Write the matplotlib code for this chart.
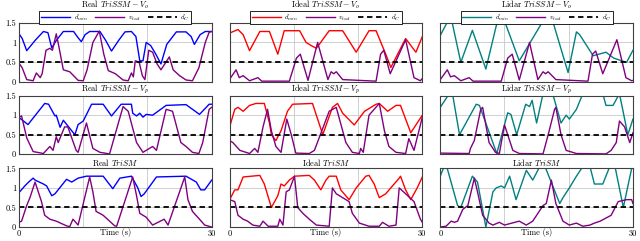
import matplotlib
matplotlib.use("Agg")
import matplotlib.pyplot as plt

plt.rcParams["font.family"] = ["cmr10", "DejaVu Serif"]
plt.rcParams["mathtext.fontset"] = "cm"
plt.rcParams["axes.unicode_minus"] = False
plt.rcParams["axes.formatter.use_mathtext"] = True

ROWS = ["Real", "Ideal", "Lidar"]
TITLES = ["$TriSSM - V_o$", "$TriSSM - V_p$", "$TriSM$"]
DMIN_COLORS = {"Real": "#0000ff", "Ideal": "#ff0000", "Lidar": "#008080"}
VTOOL_COLOR = "#800080"
D_C = 0.5

# ---- Real, TriSSM - Vo
REAL_VO_DMIN_T = [0, 0.5, 1.2, 2.5, 3.8, 4.5, 5.1, 5.8, 6.9, 8.5, 9.2, 9.7, 10.3, 11, 12.6, 13.5, 14.4, 15.5,
                  16.5, 17.5, 18.2, 18.8, 19.3, 19.8, 20.5, 21.3, 22.1, 23, 24.5, 26, 26.8, 27.3, 28.2, 29, 30]
REAL_VO_DMIN = [1.22, 1.1, 0.79, 1.05, 1.28, 1.25, 0.86, 1.05, 1.28, 1.28, 1.12, 1.02, 1.2, 1.28, 1.28, 1.05, 0.78, 1.05,
                1.27, 1.28, 1.15, 0.53, 0.53, 1.0, 0.92, 0.7, 0.45, 0.95, 1.27, 1.27, 1.15, 0.95, 1.2, 1.28, 1.28]
REAL_VO_VTOOL_T = [0, 0.5, 1.2, 2.2, 2.7, 3.3, 3.6, 4.2, 4.8, 5.2, 5.8, 6.2, 6.9, 7.9, 8.5, 9.2, 10, 10.6, 11.5, 12.5,
                   13.2, 13.9, 15, 16.2, 17, 17.5, 17.8, 18.1, 18.7, 19.2, 19.6, 20.2, 20.8, 21.5, 22.1, 23.4, 24,
                   25, 26, 27, 28, 29, 29.6, 30]
REAL_VO_VTOOL = [0.47, 0.35, 0.05, 0.02, 0.22, 0.1, 0.2, 0.8, 0.85, 0.8, 1.22, 0.9, 0.3, 0.25, 0.15, 0.03, 0.02, 0.3,
                 1.0, 1.29, 0.7, 0.28, 0.2, 0.04, 0.02, 0.22, 0.12, 0.53, 0.5, 0.15, 0.05, 0.8, 0.75, 0.45, 0.3,
                 0.63, 0.3, 0.15, 0.04, 0.02, 0.35, 1.0, 1.26, 1.28]

# ---- Ideal, TriSSM - Vo
IDEAL_VO_DMIN_T = [0, 1.3, 2.1, 3.1, 4.7, 6.2, 7.5, 8.5, 10.9, 11.9, 12.7, 13.5, 15.5, 17.6, 19.7, 21.7, 22.8, 24.3,
                   25.1, 27.4, 29, 30]
IDEAL_VO_DMIN = [1.24, 1.33, 1.2, 0.79, 1.28, 1.28, 0.7, 1.3, 1.3, 1.0, 0.92, 0.85, 1.3, 1.3, 0.75, 1.3, 1.3, 0.7,
                 0.36, 1.1, 0.75, 1.15]
IDEAL_VO_VTOOL_T = [0, 1.0, 1.5, 2.1, 3.1, 4.4, 5, 9.3, 10.4, 11, 12.2, 13.7, 15.3, 15.8, 16.2, 16.6, 17.6, 22.8,
                    23.5, 24, 25, 27.4, 28.7, 29.7, 30]
IDEAL_VO_VTOOL = [0.06, 0.3, 0.1, 0.15, 0.02, 0.1, 0.01, 0.01, 0.6, 0.7, 0.03, 1.0, 0.05, 0.25, 0.2, 0.25, 0.05,
                  0.01, 0.7, 0.8, 0.2, 1.07, 0.1, 0.02, 0.08]

# ---- Lidar, TriSSM - Vo
LIDAR_VO_DMIN_T = [0, 1.2, 1.8, 3.2, 5.0, 7.1, 8.9, 10.0, 12.3, 16, 17.5, 19.9, 21.2, 21.7, 23.8, 25.8, 27, 29, 30]
LIDAR_VO_DMIN = [1.18, 1.55, 1.55, 0.49, 1.31, 0.32, 1.55, 1.55, 0.53, 1.55, 1.55, 0.23, 1.27, 1.2, 0.66, 0.75,
                 0.6, 0.49, 0.8]
LIDAR_VO_VTOOL_T = [0, 1.1, 1.6, 2.2, 3.2, 4.5, 5.1, 9.5, 10.5, 11.2, 12.3, 13.9, 15.2, 16, 16.4, 16.8, 18, 23,
                    23.7, 24.2, 25.3, 27.5, 28.9, 29.8, 30]
LIDAR_VO_VTOOL = [0.05, 0.3, 0.12, 0.15, 0.02, 0.1, 0.01, 0.01, 0.6, 0.7, 0.04, 1.0, 0.05, 0.25, 0.2, 0.25, 0.05,
                  0.01, 0.7, 0.78, 0.2, 1.07, 0.1, 0.02, 0.03]

# ---- Real, TriSSM - Vp
REAL_VP_DMIN_T = [0, 1.4, 4.0, 4.6, 5.6, 5.8, 6.4, 6.9, 8.7, 9.2, 10, 11.3, 13.1, 14.4, 15.9, 17.5, 17.7, 18.3,
                  18.8, 19.3, 19.8, 20.8, 22.9, 26, 28.1, 29.6, 30]
REAL_VP_DMIN = [0.94, 0.76, 1.3, 1.28, 0.98, 1.0, 0.69, 0.87, 0.5, 0.76, 0.85, 1.28, 1.28, 0.98, 1.28, 1.28, 1.05,
                0.98, 1.05, 0.95, 1.02, 1.0, 1.25, 1.27, 1.02, 1.28, 1.28]
REAL_VP_VTOOL_T = [0, 0.4, 1.2, 2.2, 3.8, 4.8, 5.3, 5.8, 6.1, 7.1, 7.6, 8.9, 9.2, 10.5, 11.5, 12.6, 14.1, 16.2, 17,
                   18.3, 19.3, 20.8, 21.4, 22.9, 23.9, 25.2, 26, 27, 28, 28.6, 29.6, 30]
REAL_VP_VTOOL = [0.95, 0.98, 0.42, 0.07, 0.02, 0.2, 0.1, 0.45, 0.3, 0.7, 0.7, 0.1, 0.05, 0.8, 0.15, 0.05, 0.01,
                 1.22, 1.1, 0.3, 0.05, 0.2, 0.1, 1.15, 1.1, 0.3, 0.2, 0.05, 0.02, 0.3, 1.15, 1.2]

# ---- Ideal, TriSSM - Vp
IDEAL_VP_DMIN_T = [0, 0.8, 1.3, 2.1, 3.1, 4.1, 5.4, 6.2, 6.5, 7.2, 8.0, 9.0, 9.8, 12.9, 14.5, 16.0, 16.8, 17.6,
                   19.4, 21.0, 22.8, 23.3, 24.6, 25.9, 26.6, 28.2, 30]
IDEAL_VP_DMIN = [0.7, 1.15, 1.2, 1.1, 1.25, 1.3, 1.3, 0.8, 0.5, 0.35, 0.6, 1.1, 1.28, 1.3, 0.5, 1.2, 1.3, 1.05,
                 0.75, 1.1, 1.28, 1.3, 1.1, 1.25, 1.25, 0.55, 1.0]
IDEAL_VP_VTOOL_T = [0, 0.5, 1.6, 3.1, 3.9, 4.4, 5.2, 5.9, 6.5, 7.2, 8.0, 8.9, 9.6, 10.3, 12.4, 13.2, 15.5, 16.6,
                    18.1, 19.1, 20.2, 20.4, 20.8, 21.7, 23.3, 24.1, 24.8, 25.9, 27.4, 27.9, 28.7, 30]
IDEAL_VP_VTOOL = [0.35, 0.3, 0.1, 0.02, 0.15, 0.05, 0.7, 1.15, 0.6, 0.2, 0.05, 0.9, 0.5, 0.03, 0.02, 0.1, 1.1, 1.2,
                  0.3, 0.05, 0.02, 0.15, 0.05, 1.0, 1.3, 0.6, 0.2, 0.05, 0.02, 0.4, 0.1, 0.95]

# ---- Lidar, TriSSM - Vp
LIDAR_VP_DMIN_T = [0, 1.4, 1.9, 3.0, 5.6, 6.1, 8.8, 10.5, 11.0, 11.9, 13.3, 13.9, 14.3, 15.0, 16.0, 17.5, 18.8,
                   19.6, 20.1, 21.2, 22.2, 25.3, 25.8, 26.9, 27.9, 29.2, 30]
LIDAR_VP_DMIN = [1.2, 1.55, 1.55, 0.5, 1.28, 1.25, 0.02, 1.06, 1.02, 0.5, 1.28, 1.22, 1.38, 0.8, 1.55, 1.55, 0.8,
                 1.0, 0.9, 1.15, 1.55, 1.55, 1.25, 1.25, 1.55, 0.5, 0.9]
LIDAR_VP_VTOOL_T = [0, 4.5, 4.7, 5.3, 6.3, 6.6, 7.6, 8.6, 9.2, 10.0, 10.4, 11.3, 12.3, 16.0, 16.8, 17.8, 18.0,
                    18.8, 19.6, 21.2, 25.8, 26.6, 27.4, 27.9, 28.7, 29.5, 30]
LIDAR_VP_VTOOL = [0.03, 0.02, 0.15, 0.35, 1.15, 1.2, 0.3, 0.05, 0.02, 0.75, 0.55, 0.1, 0.02, 0.01, 0.5, 1.15, 1.2,
                  0.5, 0.1, 0.02, 0.01, 0.1, 0.3, 0.85, 0.7, 0.3, 0.55]

# ---- Real, TriSM
REAL_SM_DMIN_T = [0, 0.9, 1.5, 2.2, 2.5, 3.8, 4.3, 5.1, 5.6, 7.4, 8.2, 9.2, 10.5, 13.1, 14.6, 15.7, 17.5, 18.5,
                  19.0, 19.5, 21.4, 26, 27.6, 28.3, 28.9, 30]
REAL_SM_DMIN = [0.88, 1.05, 1.15, 1.25, 1.2, 1.1, 1.05, 0.8, 0.85, 1.22, 1.15, 1.25, 1.3, 1.3, 0.98, 1.25, 1.3, 1.0,
                0.78, 0.85, 1.28, 1.3, 1.15, 0.95, 0.95, 1.2]
REAL_SM_VTOOL_T = [0, 0.4, 1.2, 1.7, 2.5, 3.5, 4.0, 4.8, 5.8, 7.4, 7.9, 8.4, 9.2, 11, 11.5, 12, 13.1, 14.1, 14.9,
                   15.2, 17.7, 18.3, 18.8, 19.8, 20.8, 22.6, 23.2, 25.8, 26.3, 27, 28.1, 28.9, 30]
REAL_SM_VTOOL = [0.12, 0.15, 0.55, 0.75, 1.15, 0.65, 0.3, 0.2, 0.15, 0.03, 0.01, 0.2, 0.05, 1.28, 0.9, 0.4, 0.3,
                 0.15, 0.03, 0.02, 1.28, 0.8, 0.35, 0.25, 0.05, 0.2, 0.05, 1.28, 0.7, 0.4, 0.2, 0.05, 0.0]

# ---- Ideal, TriSM
IDEAL_SM_DMIN_T = [0, 0.8, 1.3, 2.1, 4.7, 5.4, 6.5, 7.5, 8.0, 8.5, 9.3, 10.1, 12.4, 13.2, 14.2, 15.0, 15.5, 16.6,
                   17.3, 18.6, 19.7, 21.2, 21.7, 22.5, 23.3, 24.3, 26.4, 26.6, 27.4, 28.2, 29.2, 30]
IDEAL_SM_DMIN = [0.7, 0.95, 0.95, 1.28, 1.32, 1.1, 0.5, 0.8, 1.1, 1.05, 1.2, 1.3, 1.32, 1.2, 0.95, 1.2, 1.3, 1.3,
                 0.95, 0.7, 1.0, 1.3, 1.32, 1.1, 0.75, 0.85, 1.25, 1.3, 0.95, 0.7, 1.0, 1.28]
IDEAL_SM_VTOOL_T = [0, 0.8, 1.3, 2.1, 2.8, 3.6, 4.7, 5.2, 6.0, 7.5, 7.8, 8.3, 8.8, 9.3, 10.1, 10.6, 11.4, 12.4,
                    13.5, 15.5, 16.0, 16.6, 17.6, 18.6, 19.1, 20.2, 21.7, 23.3, 23.8, 24.8, 25.9, 26.4, 27.4,
                    28.7, 29.7, 30]
IDEAL_SM_VTOOL = [0.7, 0.65, 0.3, 0.2, 0.15, 0.05, 0.02, 0.15, 0.02, 0.02, 0.2, 0.05, 0.9, 0.95, 1.3, 0.5, 0.35,
                  0.2, 0.05, 0.02, 1.0, 0.85, 0.75, 0.65, 0.35, 0.1, 0.02, 0.02, 0.12, 0.02, 0.05, 1.0, 0.85,
                  0.65, 0.2, 0.12]

# ---- Lidar, TriSM
LIDAR_SM_DMIN_T = [0, 0.6, 1.0, 2.7, 3.2, 5.0, 5.8, 7.1, 8.2, 8.7, 9.5, 10.0, 10.8, 11.8, 13.4, 14.4, 15.5, 16.3,
                   18.6, 19.1, 20.1, 21.2, 22.2, 23.3, 24.0, 25.3, 26.4, 27.2, 28.5, 29.8, 30]
LIDAR_SM_DMIN = [1.3, 1.55, 1.55, 0.55, 0.5, 1.3, 1.15, 0.0, 0.9, 1.0, 1.05, 1.0, 1.3, 0.7, 1.45, 1.2, 1.55, 1.55,
                 0.6, 0.75, 1.0, 1.3, 1.55, 1.55, 1.1, 1.1, 1.55, 1.55, 0.5, 1.5, 1.55]
LIDAR_SM_VTOOL_T = [0, 0.9, 1.7, 2.2, 2.7, 3.5, 4.3, 5.3, 5.8, 6.6, 7.6, 8.2, 9.2, 10.0, 12.3, 13.4, 14.4, 16.0,
                    16.5, 17.3, 18.0, 19.1, 20.1, 21.2, 22.2, 23.3, 24.0, 24.9, 26.6, 27.7, 29.0, 29.8, 30]
LIDAR_SM_VTOOL = [0.0, 0.02, 0.15, 0.12, 0.15, 0.45, 0.55, 1.25, 0.9, 0.3, 0.1, 0.05, 0.12, 0.05, 0.15, 0.05, 0.15,
                  0.55, 0.6, 1.2, 0.6, 0.15, 0.05, 0.1, 0.02, 0.05, 0.1, 0.15, 0.3, 0.65, 0.7, 0.7, 0.6]

SERIES = [
    [(REAL_VO_DMIN_T, REAL_VO_DMIN, REAL_VO_VTOOL_T, REAL_VO_VTOOL),
     (IDEAL_VO_DMIN_T, IDEAL_VO_DMIN, IDEAL_VO_VTOOL_T, IDEAL_VO_VTOOL),
     (LIDAR_VO_DMIN_T, LIDAR_VO_DMIN, LIDAR_VO_VTOOL_T, LIDAR_VO_VTOOL)],
    [(REAL_VP_DMIN_T, REAL_VP_DMIN, REAL_VP_VTOOL_T, REAL_VP_VTOOL),
     (IDEAL_VP_DMIN_T, IDEAL_VP_DMIN, IDEAL_VP_VTOOL_T, IDEAL_VP_VTOOL),
     (LIDAR_VP_DMIN_T, LIDAR_VP_DMIN, LIDAR_VP_VTOOL_T, LIDAR_VP_VTOOL)],
    [(REAL_SM_DMIN_T, REAL_SM_DMIN, REAL_SM_VTOOL_T, REAL_SM_VTOOL),
     (IDEAL_SM_DMIN_T, IDEAL_SM_DMIN, IDEAL_SM_VTOOL_T, IDEAL_SM_VTOOL),
     (LIDAR_SM_DMIN_T, LIDAR_SM_DMIN, LIDAR_SM_VTOOL_T, LIDAR_SM_VTOOL)],
]

fig, axes = plt.subplots(3, 3, figsize=(6.4, 2.41), dpi=100)
fig.subplots_adjust(left=0.0297, right=0.989, top=0.905, bottom=0.058, wspace=0.093, hspace=0.24)

for r in range(3):
    for c, name in enumerate(ROWS):
        ax = axes[r, c]
        dt, dv, vt, vv = SERIES[r][c]
        l1, = ax.plot(dt, dv, color=DMIN_COLORS[name], lw=1.0, label="$d_{min}$")
        l2, = ax.plot(vt, vv, color=VTOOL_COLOR, lw=1.0, label="$v_{tool}$")
        l3 = ax.axhline(D_C, color="black", lw=1.3, ls=(0, (3, 2)), label="$d_C$")
        ax.set_xlim(0, 30)
        ax.set_ylim(0, 1.5)
        ax.set_xticks([0, 10, 20, 30])
        ax.set_yticks([0, 0.5, 1, 1.5])
        ax.grid(True, color="#c8c8c8", lw=0.6)
        ax.set_axisbelow(True)
        ax.tick_params(length=0, labelsize=6, pad=2)
        for s in ax.spines.values():
            s.set_color("#404040")
            s.set_linewidth(0.8)
        if c == 0:
            ax.set_yticklabels(["0", "0.5", "1", "1.5"])
        else:
            ax.set_yticklabels([])
        if r == 2:
            ax.set_xticklabels(["0", "", "", "30"])
            ax.set_xlabel("Time (s)", fontsize=6, labelpad=-7)
        else:
            ax.set_xticklabels([])
        ax.set_title(f"{name} {TITLES[r]}", fontsize=6, pad=11 if r == 0 else 2)
        if r == 0:
            leg = ax.legend(handles=[l1, l2, l3], loc="center", bbox_to_anchor=(0.5, 1.09), ncol=3,
                            fontsize=5, handlelength=4.2, handletextpad=0.5, columnspacing=1.0,
                            borderpad=0.25, fancybox=False, framealpha=1)
            leg.get_frame().set_edgecolor("black")
            leg.get_frame().set_linewidth(0.6)

fig.savefig("out.png", dpi=100)
